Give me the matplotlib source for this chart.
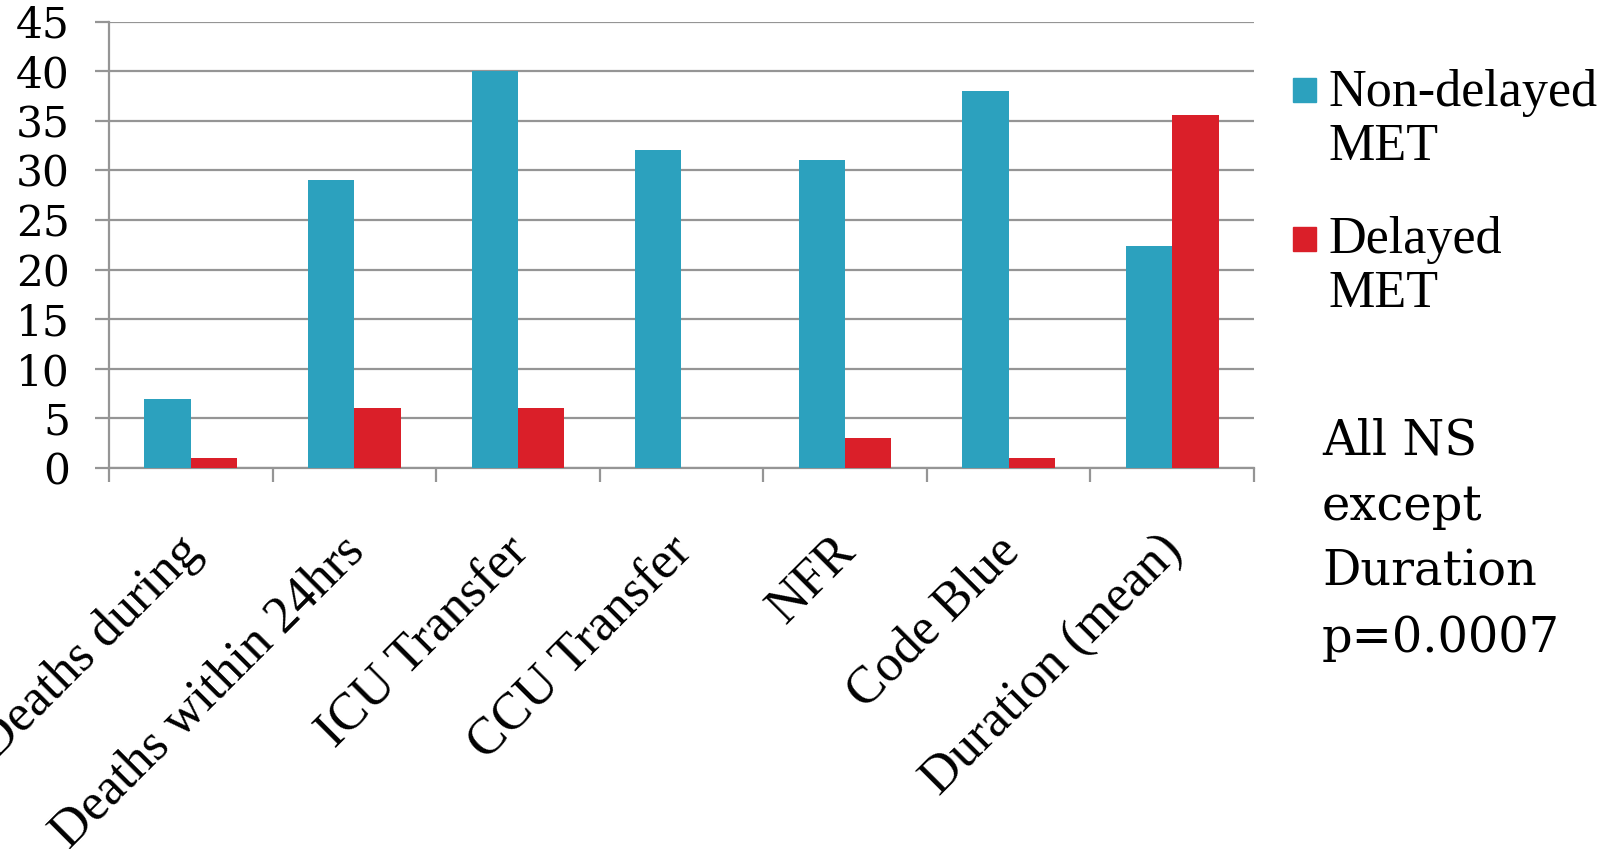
import matplotlib
matplotlib.use("Agg")
import matplotlib.pyplot as plt
from matplotlib.patches import Rectangle
from matplotlib.transforms import ScaledTranslation
import numpy as np

categories = ["Deaths during", "Deaths within 24hrs", "ICU Transfer", "CCU Transfer",
              "NFR", "Code Blue", "Duration (mean)"]
non_delayed = [7, 29, 40, 32, 31, 38, 22.4]
delayed = [1, 6, 6, 0, 3, 1, 35.6]
series_names = ["Non-delayed\nMET", "Delayed\nMET"]
y_ticks = [0, 5, 10, 15, 20, 25, 30, 35, 40, 45]
note = "All NS\nexcept\nDuration\np=0.0007"

BLUE = "#2ca1be"
RED = "#da1f29"
GRID = "#959595"


def main():
    fig = plt.figure(figsize=(16.18, 8.49), dpi=100)
    ax = fig.add_axes([109 / 1618, 1 - 468 / 849, (1254 - 109) / 1618, (468 - 21.5) / 849])

    x = np.arange(len(categories))
    w = 0.283
    ax.bar(x - w / 2, non_delayed, w, color=BLUE, zorder=3)
    ax.bar(x + w / 2, delayed, w, color=RED, zorder=3)

    ax.set_xlim(-0.5, len(categories) - 0.5)
    ax.set_ylim(0, 45)

    # horizontal gridlines, including the top one
    ax.set_yticks(y_ticks)
    ax.yaxis.grid(True, color=GRID, linewidth=1.6, zorder=0)
    ax.set_axisbelow(True)
    for s in ["top", "right"]:
        ax.spines[s].set_visible(False)
    for s in ["left", "bottom"]:
        ax.spines[s].set_color(GRID)
        ax.spines[s].set_linewidth(1.6)

    ax.tick_params(axis="y", length=10, width=1.6, color=GRID, pad=18,
                   labelsize=30.5)
    for lbl in ax.get_yticklabels():
        lbl.set_fontfamily("DejaVu Serif")

    # category boundaries get the tick marks, centres get the labels
    ax.set_xticks(np.arange(len(categories) + 1) - 0.5)
    ax.set_xticklabels([])
    ax.tick_params(axis="x", which="major", length=10, width=1.6, color=GRID)
    ax.set_xticks(x, categories, minor=True)
    ax.tick_params(axis="x", which="minor", length=0, pad=38)
    shift = ScaledTranslation(-14 / 100, -6 / 100, fig.dpi_scale_trans)
    for lbl in ax.get_xticklabels(minor=True):
        lbl.set_rotation(45)
        lbl.set_ha("right")
        lbl.set_va("top")
        lbl.set_rotation_mode("anchor")
        lbl.set_fontsize(37.5)
        lbl.set_fontfamily("Liberation Serif")
        lbl.set_transform(lbl.get_transform() + shift)

    # legend drawn by hand so the swatch sits on the first line
    for color, name, top, base in [(BLUE, series_names[0], 78, 160),
                                   (RED, series_names[1], 227, 307)]:
        fig.add_artist(Rectangle((1293 / 1618, 1 - (top + 24) / 849), 23 / 1618, 24 / 849,
                                 transform=fig.transFigure, color=color))
        fig.text(1328 / 1618, 1 - base / 849, name, fontsize=37.5,
                 family="Liberation Serif", va="baseline", ha="left", linespacing=1.15)

    fig.text(1322 / 1618, 1 - 418 / 849, note, fontsize=34.5, family="DejaVu Serif",
             va="top", ha="left", linespacing=1.5)

    fig.savefig("out.png", dpi=100)


if __name__ == "__main__":
    main()
